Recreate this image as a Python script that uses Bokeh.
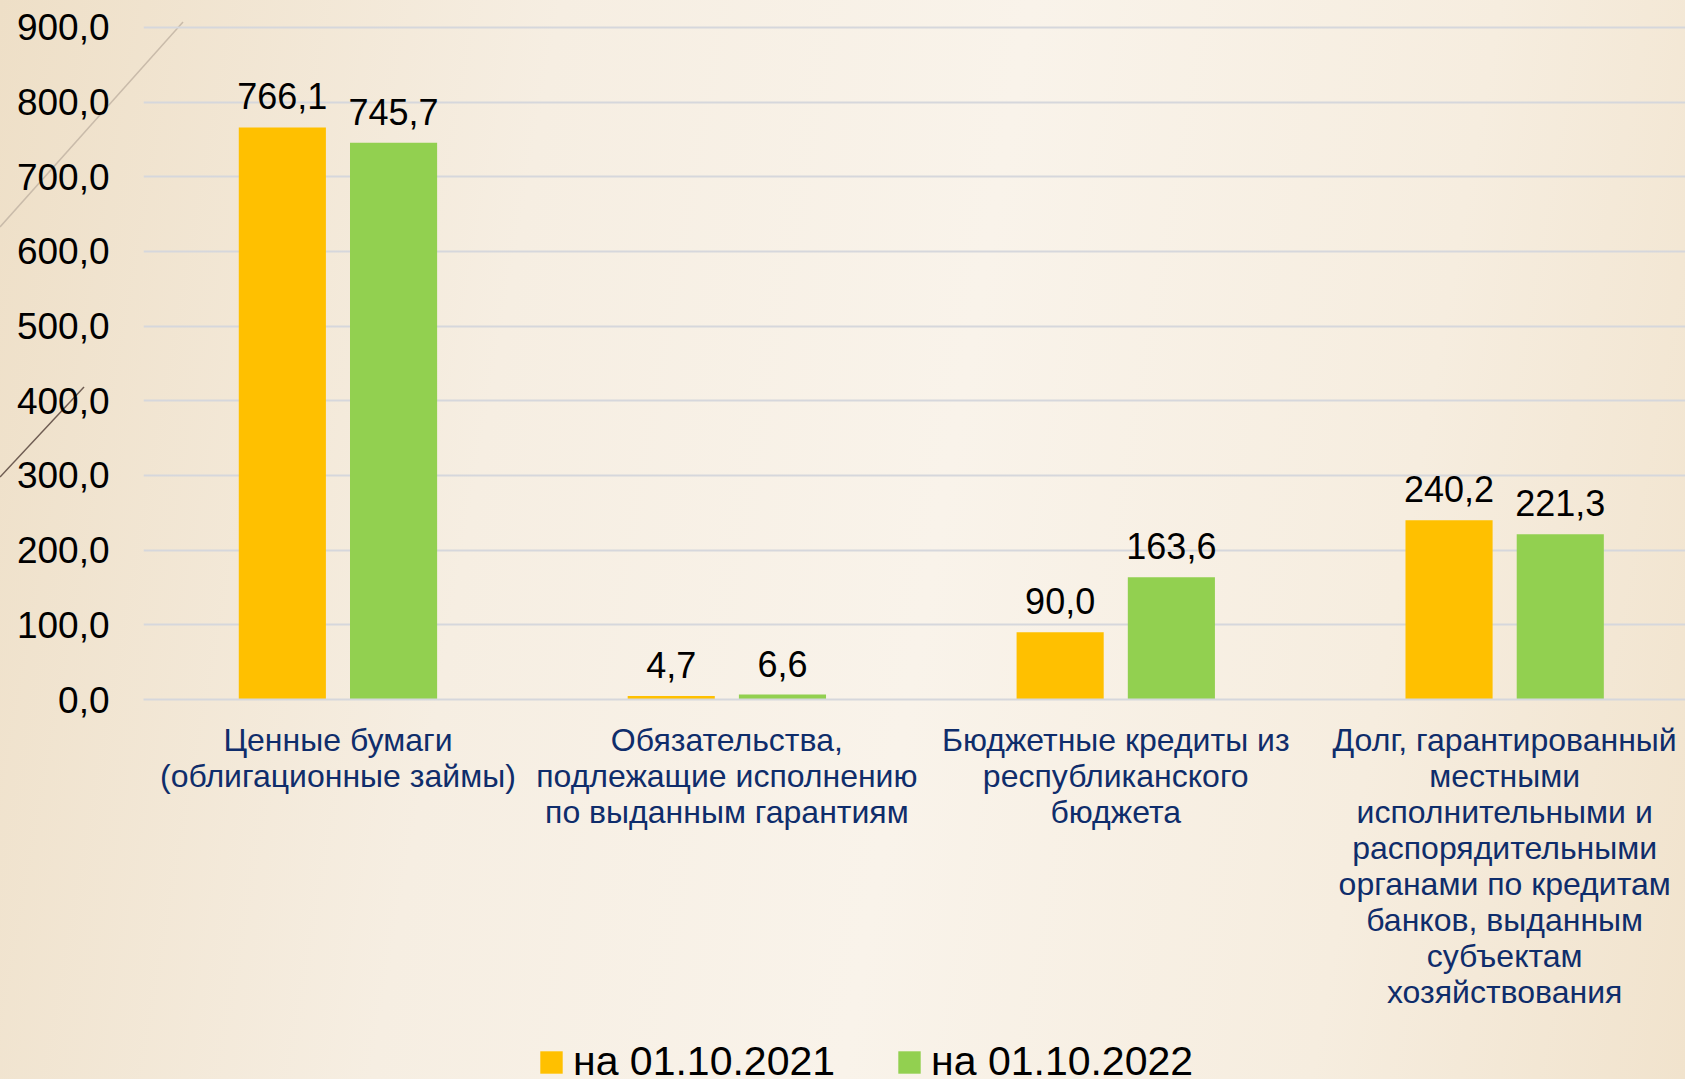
from bokeh.plotting import figure
from bokeh.layouts import column
from bokeh.models import Range1d, FixedTicker, Legend, LegendItem, ColumnDataSource, LabelSet
from bokeh.core.properties import value
from bokeh.embed import file_html
from bokeh.resources import INLINE

categories = [
    "Ценные бумаги\n(облигационные займы)",
    "Обязательства,\nподлежащие исполнению\nпо выданным гарантиям",
    "Бюджетные кредиты из\nреспубликанского\nбюджета",
    "Долг, гарантированный\nместными\nисполнительными и\nраспорядительными\nорганами по кредитам\nбанков, выданным\nсубъектам\nхозяйствования",
]
series_names = ["на 01.10.2021", "на 01.10.2022"]
values_2021 = [766.1, 4.7, 90.0, 240.2]
values_2022 = [745.7, 6.6, 163.6, 221.3]
y_ticks = [0, 100, 200, 300, 400, 500, 600, 700, 800, 900]

colors = ["#FFC000", "#92D050"]
FONT = "Liberation Sans"

def fmt(v):
    return f"{v:.1f}".replace(".", ",")

W = 1685
p = figure(width=W, height=1031, output_backend="svg", toolbar_location=None,
           x_range=Range1d(-0.5, 3.465), y_range=Range1d(0, 912),
           min_border_left=143, min_border_right=0, min_border_top=18,
           min_border_bottom=332)
p.background_fill_alpha = 0
p.border_fill_alpha = 0
p.outline_line_color = None

xs = list(range(len(categories)))
offset = 0.143
bw = 0.224
for vals, col, off in [(values_2021, colors[0], -offset), (values_2022, colors[1], offset)]:
    src = ColumnDataSource(dict(x=[x + off for x in xs], top=vals,
                                label=[fmt(v) for v in vals]))
    p.vbar(x="x", top="top", width=bw, bottom=0, source=src,
           fill_color=col, line_color=None)
    p.add_layout(LabelSet(x="x", y="top", text="label", source=src,
                          text_align="center", text_baseline="alphabetic",
                          y_offset=18, text_font=value(FONT), text_font_size="36px",
                          text_color="#000000"))

# y axis
p.yaxis.ticker = FixedTicker(ticks=y_ticks)
p.yaxis.major_label_overrides = {t: fmt(t) for t in y_ticks}
p.yaxis.axis_line_color = None
p.yaxis.major_tick_line_color = None
p.yaxis.minor_tick_line_color = None
p.yaxis.major_label_text_font = FONT
p.yaxis.major_label_text_font_size = "37px"
p.yaxis.major_label_text_color = "#000000"
p.yaxis.major_label_standoff = 28

# x axis
p.xaxis.ticker = FixedTicker(ticks=xs)
p.xaxis.major_label_overrides = {i: c for i, c in enumerate(categories)}
p.xaxis.axis_line_color = "#D6D7DC"
p.xaxis.axis_line_width = 2
p.xaxis.major_tick_line_color = None
p.xaxis.minor_tick_line_color = None
p.xaxis.major_label_text_font = FONT
p.xaxis.major_label_text_font_size = "32px"
p.xaxis.major_label_text_color = "#0F2D6B"
p.xaxis.major_label_standoff = 16
p.xaxis.major_label_text_line_height = 1.0

p.xgrid.grid_line_color = None
p.ygrid.ticker = FixedTicker(ticks=y_ticks)
p.ygrid.grid_line_color = "#D6D7DC"
p.ygrid.grid_line_width = 2

# legend strip (frame aligned with main plot's frame inside the column)
p2 = figure(width=W, height=48, output_backend="svg", toolbar_location=None,
            min_border=0, x_range=Range1d(0, 1), y_range=Range1d(0, 1))
p2.background_fill_alpha = 0
p2.border_fill_alpha = 0
p2.outline_line_color = None
p2.axis.visible = False
p2.grid.grid_line_color = None
leg_renderers = []
for col in colors:
    proxy = ColumnDataSource(dict(x=[0.5], top=[0.0]))
    leg_renderers.append(p2.vbar(x="x", top="top", bottom=0, width=0.01, source=proxy,
                                 fill_color=col, line_color=None))
legend = Legend(items=[LegendItem(label=series_names[i], renderers=[leg_renderers[i]]) for i in range(2)],
                orientation="horizontal", location=(394, -6))
legend.label_text_font = FONT
legend.label_text_font_size = "41px"
legend.label_text_color = "#000000"
legend.glyph_width = 28
legend.glyph_height = 28
legend.label_standoff = 8
legend.spacing = 60
legend.padding = 0
legend.margin = 0
legend.background_fill_alpha = 0
legend.border_line_color = None
p2.add_layout(legend, "center")

deco = ("url(\"data:image/svg+xml;utf8,<svg xmlns='http://www.w3.org/2000/svg' width='1685' height='1079'>"
        "<line x1='0' y1='227' x2='183' y2='22' stroke='%23C9BBAA' stroke-width='1.5'/>"
        "<line x1='0' y1='477' x2='84' y2='387' stroke='%236E5C52' stroke-width='1.5'/>"
        "</svg>\") no-repeat 0 0")
layout = column(p, p2)
layout.styles = {"background": deco + ", linear-gradient(100deg, #EEDFC7 0%, #F6EEE2 30%, #F9F3EA 55%, #F6EDDF 80%, #F1E3CD 100%)"}

open("out.html", "w").write(file_html(layout, INLINE))
